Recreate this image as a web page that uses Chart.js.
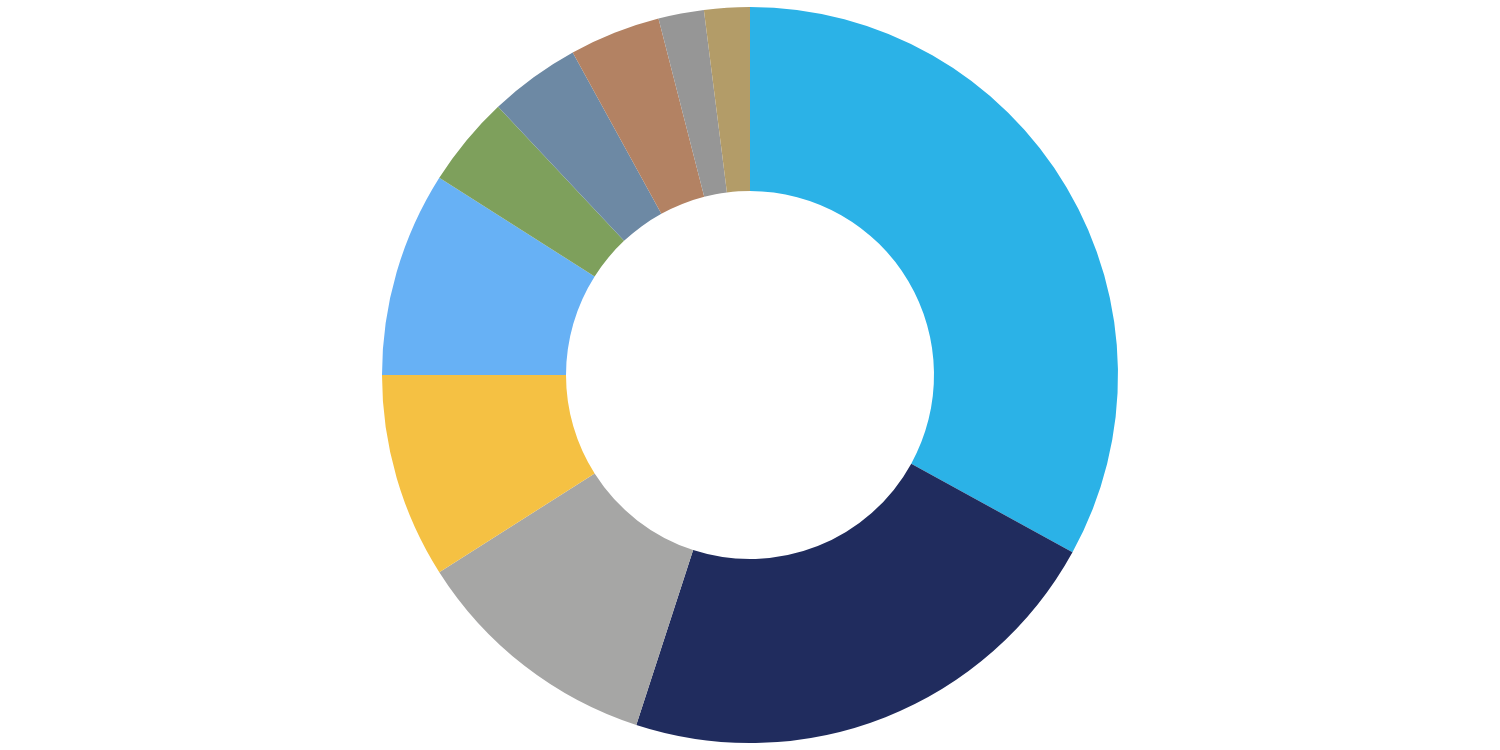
<!DOCTYPE html>
<html lang="en">
<head>
    <meta charset="UTF-8">
    <title>Doughnut</title>
    <script src="https://cdn.jsdelivr.net/npm/chart.js"></script>
    <style>
        html, body { margin: 0; padding: 0; background: #fff; }
        .chart-container { position: relative; width: 1500px; height: 750px; }
    </style>
</head>
<body>
    <div class="chart-container"><canvas id="donut"></canvas></div>
    <script>
        // === DATA ===
        const categories = ['A', 'B', 'C', 'D', 'E', 'F', 'G', 'H', 'I', 'J'];
        const shares = [33, 22, 11, 9, 9, 4, 4, 4, 2, 2];
        const sliceColors = ['#2bb2e7', '#202c5e', '#a6a6a5', '#f5c143', '#67b1f5',
                             '#7ea05c', '#6d89a4', '#b38263', '#969696', '#b39c68'];

        const ctx = document.getElementById('donut').getContext('2d');
        new Chart(ctx, {
            type: 'doughnut',
            data: {
                labels: categories,
                datasets: [{ data: shares, backgroundColor: sliceColors, borderWidth: 0 }]
            },
            options: {
                responsive: true,
                maintainAspectRatio: false,
                animation: false,
                cutout: '50%',
                layout: { padding: 7 },
                plugins: { legend: { display: false }, tooltip: { enabled: false } }
            }
        });
    </script>
</body>
</html>
